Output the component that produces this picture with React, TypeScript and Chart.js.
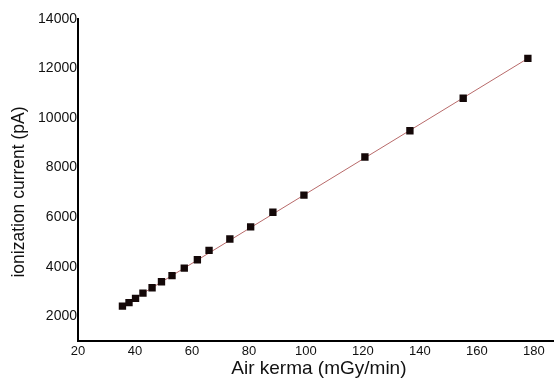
import React, { useEffect, useRef } from 'react';
import { Chart, registerables } from 'chart.js';

Chart.register(...registerables);

const airKerma = [35.6, 37.9, 40.2, 42.8, 46.0, 49.3, 53.0, 57.3, 61.9, 66.0, 73.3, 80.6, 88.4, 99.3, 120.7, 136.5, 155.2, 177.9];
const current = [2410, 2550, 2720, 2930, 3150, 3390, 3640, 3940, 4280, 4660, 5120, 5610, 6200, 6890, 8430, 9490, 10800, 12410];
const fitX = [35.6, 177.9];
const fitY = [2420, 12410];
const xTicks = [20, 40, 60, 80, 100, 120, 140, 160, 180];
const yTicks = [2000, 4000, 6000, 8000, 10000, 12000, 14000];
const xTitle = 'Air kerma (mGy/min)';
const yTitle = 'ionization current (pA)';

const FONT = '"Liberation Sans", Arial, sans-serif';

const titlePlugin = {
  id: 'axisTitles',
  afterDraw(chart: any) {
    const { ctx, chartArea } = chart;
    ctx.save();
    ctx.fillStyle = '#111';
    ctx.textAlign = 'center';
    ctx.textBaseline = 'middle';
    ctx.font = `19px ${FONT}`;
    ctx.fillText(xTitle, (chartArea.left + chartArea.right) / 2 + 3, chartArea.bottom + 28);
    ctx.translate(19, (chartArea.top + chartArea.bottom) / 2 + 12);
    ctx.rotate(-Math.PI / 2);
    ctx.font = `17.5px ${FONT}`;
    ctx.fillText(yTitle, 0, 0);
    ctx.restore();
  },
};

export default function App() {
  const ref = useRef<HTMLCanvasElement>(null);
  useEffect(() => {
    document.body.style.margin = '0';
    const chart = new Chart(ref.current!, {
      type: 'scatter',
      data: {
        datasets: [
          {
            data: airKerma.map((x, i) => ({ x, y: current[i] })),
            pointStyle: 'rect',
            pointRadius: 5.2,
            pointBackgroundColor: '#140808',
            pointBorderColor: '#140808',
            pointBorderWidth: 0,
            showLine: false,
          },
          {
            data: fitX.map((x, i) => ({ x, y: fitY[i] })),
            showLine: true,
            borderColor: '#b86a6a',
            borderWidth: 1,
            pointRadius: 0,
          },
        ],
      },
      options: {
        responsive: false,
        animation: false,
        layout: { padding: { top: 19, right: 2, left: 0, bottom: 0 } },
        plugins: { legend: { display: false }, tooltip: { enabled: false } },
        scales: {
          x: {
            type: 'linear',
            min: 20,
            max: 187,
            afterBuildTicks: (s: any) => {
              s.ticks = xTicks.map((v) => ({ value: v }));
            },
            afterFit: (s: any) => {
              s.height = 39;
            },
            grid: { display: false, drawTicks: false },
            border: { display: true, color: '#000', width: 2 },
            ticks: {
              font: { family: FONT, size: 13 },
              color: '#111',
              padding: 3,
              maxRotation: 0,
              autoSkip: false,
              callback: (v: any) => String(v),
            },
          },
          y: {
            type: 'linear',
            min: 1000,
            max: 14000,
            afterBuildTicks: (s: any) => {
              s.ticks = yTicks.map((v) => ({ value: v }));
            },
            afterFit: (s: any) => {
              s.width = 78;
            },
            grid: { display: false, drawTicks: false },
            border: { display: true, color: '#000', width: 2 },
            ticks: {
              font: { family: FONT, size: 14 },
              color: '#111',
              padding: 1,
              autoSkip: false,
              callback: (v: any) => String(v),
            },
          },
        },
      },
      plugins: [titlePlugin],
    });
    return () => chart.destroy();
  }, []);
  return (
    <div style={{ width: 559, height: 380 }}>
      <canvas ref={ref} width={559} height={380} />
    </div>
  );
}
